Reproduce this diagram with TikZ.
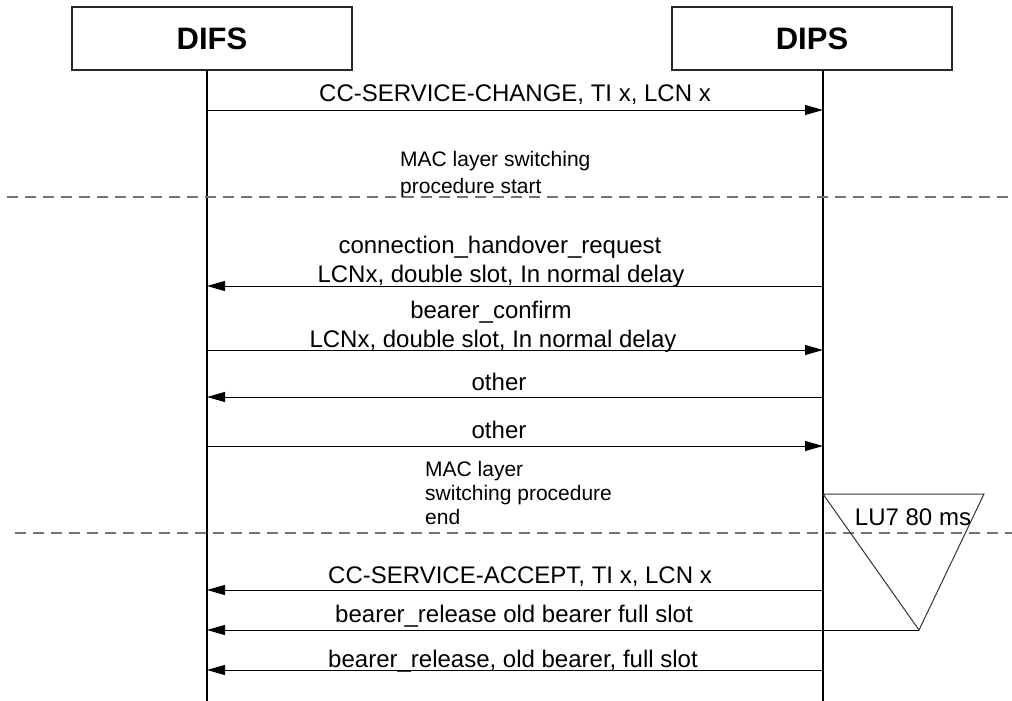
\documentclass[tikz,border=0pt]{standalone}
\usepackage{fontspec}
\setmainfont{Liberation Sans}
\usetikzlibrary{arrows.meta}
\begin{document}
\begin{tikzpicture}[x=1pt,y=-1pt,
  actor/.style={draw=black!85, line width=1.2pt, minimum width=280pt, minimum height=63pt, inner sep=0pt, font=\fontsize{31}{36}\selectfont\bfseries},
  life/.style={draw=black, line width=1.2pt},
  msg/.style={draw=black, line width=1pt, -{Triangle[length=18pt,width=10pt]}},
  lbl/.style={anchor=base, inner sep=0pt, font=\fontsize{24}{28}\selectfont},
  note/.style={anchor=base west, inner sep=0pt, align=left, font=\fontsize{21}{24}\selectfont},
  sep/.style={draw=black!55, line width=1.3pt, dash pattern=on 11pt off 7pt},
  timer/.style={draw=black!80, line width=1pt, line join=miter},
]
\useasboundingbox (0,0) rectangle (1012,701);
% actors
\node[actor] (difs) at (212,38.5) {DIFS};
\node[actor] (dips) at (812,38.5) {DIPS};
\coordinate (difsTop) at (207,70);
\coordinate (difsEnd) at (207,701);
\coordinate (dipsTop) at (823,70);
\coordinate (dipsEnd) at (823,701);
\draw[life] (difsTop) -- (difsEnd);
\draw[life] (dipsTop) -- (dipsEnd);
% separators
\coordinate (s1a) at (7,197);  \coordinate (s1b) at (1012,197);
\coordinate (s2a) at (15,533); \coordinate (s2b) at (1012,533);
\draw[sep] (s1a) -- (s1b);
\draw[sep] (s2a) -- (s2b);
% message end points
\coordinate (m1a) at (207,110); \coordinate (m1b) at (823,110);
\coordinate (m2a) at (823,286); \coordinate (m2b) at (207,286);
\coordinate (m3a) at (207,350); \coordinate (m3b) at (823,350);
\coordinate (m4a) at (823,397); \coordinate (m4b) at (207,397);
\coordinate (m5a) at (207,446); \coordinate (m5b) at (823,446);
\coordinate (m6a) at (823,590); \coordinate (m6b) at (207,590);
\coordinate (m7b) at (207,630);
\coordinate (m8a) at (823,670); \coordinate (m8b) at (207,670);
% timer triangle
\coordinate (tA) at (823,494);
\coordinate (tB) at (984,494);
\coordinate (tC) at (919,630);
\draw[timer] (tA) -- (tB) -- (tC) -- cycle;
\node[lbl] (lu7) at (913,525) {LU7 80 ms};
% messages
\draw[msg] (m1a) -- (m1b);
\node[lbl] (t1) at (515,102) {CC-SERVICE-CHANGE, TI x, LCN x};
\node[note] (n1) at (400,193) {MAC layer switching\\[3pt]procedure start};
\draw[msg] (m2a) -- (m2b);
\node[lbl] (t2a) at (500,253) {connection\_handover\_request};
\node[lbl] (t2b) at (501,282) {LCNx, double slot, In normal delay};
\draw[msg] (m3a) -- (m3b);
\node[lbl] (t3a) at (491,318) {bearer\_confirm};
\node[lbl] (t3b) at (493,347) {LCNx, double slot, In normal delay};
\draw[msg] (m4a) -- (m4b);
\node[lbl] (t4) at (499,390) {other};
\draw[msg] (m5a) -- (m5b);
\node[lbl] (t5) at (499,438) {other};
\node[note] (n2) at (425,524) {MAC layer\\switching procedure\\end};
\draw[msg] (m6a) -- (m6b);
\node[lbl] (t6) at (520,583) {CC-SERVICE-ACCEPT, TI x, LCN x};
\draw[msg] (tC) -- (m7b);
\node[lbl] (t7) at (514,622) {bearer\_release old bearer full slot};
\draw[msg] (m8a) -- (m8b);
\node[lbl] (t8) at (513,667) {bearer\_release, old bearer, full slot};
\end{tikzpicture}
\end{document}
